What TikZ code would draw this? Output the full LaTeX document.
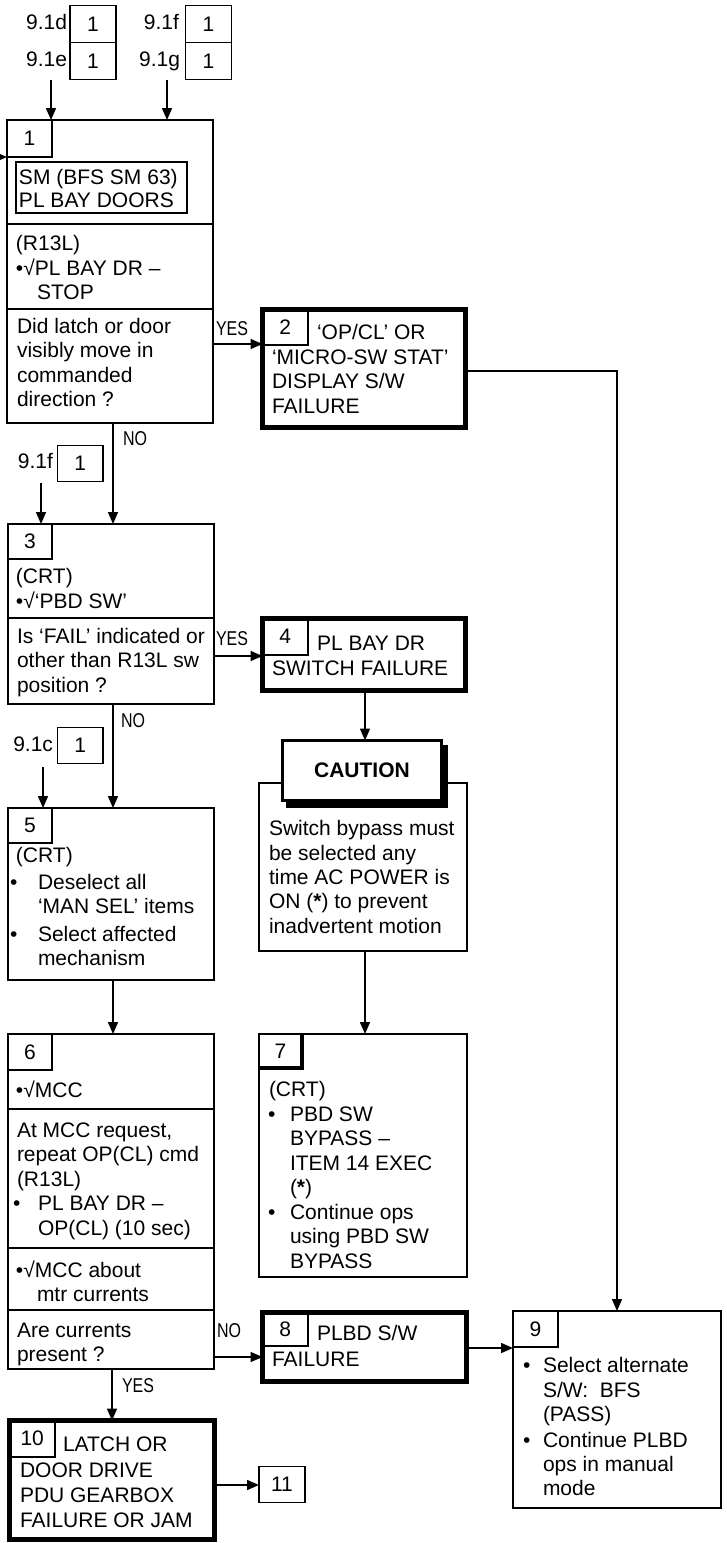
\documentclass[tikz,border=0pt]{standalone}
\usepackage{fontspec}
\setmainfont{Liberation Sans}
\newfontfamily\narrowfont[FakeStretch=0.8]{Liberation Sans}
\usetikzlibrary{arrows.meta}
\begin{document}
\begin{tikzpicture}[x=1pt,y=-1pt,
  box/.style={draw, line width=1.6pt, inner sep=0pt, outer sep=0pt, anchor=north west, font=\fontsize{21}{24}\selectfont},
  tabbox/.style={box, line width=1.5pt},
  heavybox/.style={box, line width=4.5pt},
  txt/.style={inner sep=0pt, outer sep=0pt, anchor=base west, font=\fontsize{21}{24}\selectfont},
  rlbl/.style={txt, anchor=base east},
  lbl/.style={inner sep=0pt, outer sep=0pt, anchor=base west, font=\narrowfont\fontsize{20}{24}\selectfont},
  arr/.style={line width=1.6pt, -{Triangle[length=12pt,width=10pt]}},
  divl/.style={line width=1.6pt},
]
\useasboundingbox (0,0) rectangle (727,1543);

% ---- top references
\node[tabbox, minimum width=46pt, minimum height=37pt] (r1) at (70,5.5) {1};
\node[tabbox, minimum width=46pt, minimum height=37pt] (r2) at (70,42.5) {1};
\node[tabbox, minimum width=46pt, minimum height=37pt] (r3) at (185.5,5.5) {1};
\node[tabbox, minimum width=46pt, minimum height=37pt] (r4) at (185.5,42.5) {1};
\node[rlbl] (r1l) at (67,29) {9.1d};
\node[rlbl] (r2l) at (67,66) {9.1e};
\node[rlbl] (r3l) at (179,29) {9.1f};
\node[rlbl] (r4l) at (180,66) {9.1g};

% ---- box 1
\node[box, minimum width=206pt, minimum height=303pt] (b1) at (7,120) {};
\node[tabbox, minimum width=45pt, minimum height=37pt] (t1) at (7,120) {1};
\node[tabbox, minimum width=171pt, minimum height=51pt] (h1) at (16,162) {};
\node[txt] (h1a) at (19,184) {SM (BFS SM 63)};
\node[txt] (h1b) at (19,207) {PL BAY DOORS};
\draw[divl] (7,224) -- (213,224);
\node[txt] (s1a) at (16,250) {(R13L)};
\node[txt] (s1b) at (16,275) {•√PL BAY DR –};
\node[txt] (s1c) at (37,299) {STOP};
\draw[divl] (7,309) -- (213,309);
\node[txt] (q1a) at (17,333) {Did latch or door};
\node[txt] (q1b) at (17,357.5) {visibly move in};
\node[txt] (q1c) at (17,382) {commanded};
\node[txt] (q1d) at (17,406.5) {direction ?};

\coordinate (s1) at (51,80);
\coordinate (s2) at (167,80);
\draw[arr] (s1) -- (s1 |- b1.north);
\draw[arr] (s2) -- (s2 |- b1.north);
\coordinate (lin) at (-14,157);
\draw[arr] (lin) -- (lin -| b1.west);

% ---- box 2
\node[heavybox, minimum width=203pt, minimum height=118pt] (b2) at (262.5,309.5) {};
\node[tabbox, minimum width=45.5pt, minimum height=35.5pt] (t2) at (262.5,309.5) {2};
\node[txt] (b2a) at (317,339) {‘OP/CL’ OR};
\node[txt] (b2b) at (272,364) {‘MICRO-SW STAT’};
\node[txt] (b2c) at (272,388.5) {DISPLAY S/W};
\node[txt] (b2d) at (272,413) {FAILURE};
\node[lbl] (y1) at (216,335) {YES};
\draw[arr] (b1.east |- 0,344) -- (b2.west |- 0,344);

% ---- box 3
\node[tabbox, minimum width=45.5pt, minimum height=36pt] (r5) at (57.5,445.5) {1};
\node[rlbl] (r5l) at (53,468) {9.1f};
\node[lbl] (n1) at (123,445) {NO};
\node[box, minimum width=206pt, minimum height=180pt] (b3) at (8,524) {};
\node[tabbox, minimum width=44pt, minimum height=35pt] (t3) at (8,524) {3};
\node[txt] (b3a) at (16,583) {(CRT)};
\node[txt] (b3b) at (16,608) {•√‘PBD SW’};
\draw[divl] (8,618) -- (214,618);
\node[txt] (b3c) at (17,643) {Is ‘FAIL’ indicated or};
\node[txt] (b3d) at (17,667.5) {other than R13L sw};
\node[txt] (b3e) at (17,692) {position ?};
\draw[arr] (b1.south -| 113,0) -- (b3.north -| 113,0);
\coordinate (s3) at (41,483);
\draw[arr] (s3) -- (s3 |- b3.north);

% ---- box 4
\node[heavybox, minimum width=203pt, minimum height=72pt] (b4) at (262.5,618.5) {};
\node[tabbox, minimum width=45.5pt, minimum height=36.5pt] (t4) at (262.5,618.5) {4};
\node[txt] (b4a) at (317,650) {PL BAY DR};
\node[txt] (b4b) at (272,675) {SWITCH FAILURE};
\node[lbl] (y2) at (216,645) {YES};
\draw[arr] (b3.east |- 0,656) -- (b4.west |- 0,656);

% ---- caution
\node[box, minimum width=208pt, minimum height=168pt] (caub) at (259,783) {};
\node[fill, inner sep=0pt, outer sep=0pt, anchor=north west, minimum width=162pt, minimum height=63pt] (cshadow) at (286,745) {};
\node[box, line width=3pt, fill=white, minimum width=159pt, minimum height=60pt, font=\fontsize{21}{24}\selectfont\bfseries] (cauh) at (282.5,740.5) {CAUTION};
\node[txt] (ca) at (269,835) {Switch bypass must};
\node[txt] (cb) at (269,860) {be selected any};
\node[txt] (cc) at (269,884) {time AC POWER is};
\node[txt] (cd) at (269,908) {ON (\textbf{*}) to prevent};
\node[txt] (ce) at (269,933) {inadvertent motion};
\draw[arr] (b4.south -| 365,0) -- (cauh.north -| 365,0);

% ---- box 5
\node[tabbox, minimum width=45.5pt, minimum height=36pt] (r6) at (57.5,727.5) {1};
\node[rlbl] (r6l) at (53,751) {9.1c};
\node[lbl] (n2) at (121,727) {NO};
\node[box, minimum width=206pt, minimum height=172pt] (b5) at (8,808) {};
\node[tabbox, minimum width=44pt, minimum height=35pt] (t5) at (8,808) {5};
\node[txt] (b5a) at (16,862) {(CRT)};
\node[txt] (b5b1) at (10,889) {•};
\node[txt] (b5b) at (38,889) {Deselect all};
\node[txt] (b5c) at (38,913) {‘MAN SEL’ items};
\node[txt] (b5d1) at (10,941) {•};
\node[txt] (b5d) at (38,941) {Select affected};
\node[txt] (b5e) at (38,965) {mechanism};
\draw[arr] (b3.south -| 113,0) -- (b5.north -| 113,0);
\coordinate (s4) at (43,767);
\draw[arr] (s4) -- (s4 |- b5.north);

% ---- box 7
\node[box, minimum width=208pt, minimum height=243pt] (b7) at (259,1034) {};
\node[inner sep=0pt, outer sep=0pt, anchor=north west, minimum width=43pt, minimum height=34pt, font=\fontsize{21}{24}\selectfont] (t7) at (259,1034) {7};
\draw[line width=4.5pt] (t7.south west) -- (t7.south east) -- ([yshift=-0.8pt]t7.north east);
\node[txt] (b7a) at (269,1096) {(CRT)};
\node[txt] (b7b1) at (268,1121) {•};
\node[txt] (b7b) at (290,1121) {PBD SW};
\node[txt] (b7c) at (290,1145) {BYPASS –};
\node[txt] (b7d) at (290,1170) {ITEM 14 EXEC};
\node[txt] (b7e) at (290,1194) {(\textbf{*})};
\node[txt] (b7f1) at (268,1219) {•};
\node[txt] (b7f) at (290,1219) {Continue ops};
\node[txt] (b7g) at (290,1243.5) {using PBD SW};
\node[txt] (b7h) at (290,1268) {BYPASS};
\draw[arr] (caub.south -| 365,0) -- (b7.north -| 365,0);

% ---- box 6
\node[box, minimum width=206pt, minimum height=335pt] (b6) at (8,1034) {};
\node[tabbox, minimum width=44pt, minimum height=36pt] (t6) at (8,1034) {6};
\node[txt] (b6a) at (16,1097) {•√MCC};
\draw[divl] (8,1109) -- (214,1109);
\node[txt] (b6b) at (17,1137) {At MCC request,};
\node[txt] (b6c) at (17,1161.5) {repeat OP(CL) cmd};
\node[txt] (b6d) at (17,1186) {(R13L)};
\node[txt] (b6e1) at (13,1210.5) {•};
\node[txt] (b6e) at (38,1210.5) {PL BAY DR –};
\node[txt] (b6f) at (38,1235) {OP(CL) (10 sec)};
\draw[divl] (8,1248) -- (214,1248);
\node[txt] (b6g) at (16,1277) {•√MCC about};
\node[txt] (b6h) at (37,1301.5) {mtr currents};
\draw[divl] (8,1310) -- (214,1310);
\node[txt] (b6i) at (17,1337) {Are currents};
\node[txt] (b6j) at (17,1361) {present ?};
\draw[arr] (b5.south -| 113,0) -- (b6.north -| 113,0);

% ---- box 8
\node[heavybox, minimum width=204pt, minimum height=69pt] (b8) at (262.5,1312.5) {};
\node[tabbox, minimum width=45.5pt, minimum height=33.5pt] (t8) at (262.5,1312.5) {8};
\node[txt] (b8a) at (317,1340) {PLBD S/W};
\node[txt] (b8b) at (272,1366) {FAILURE};
\node[lbl] (n3) at (217,1337) {NO};
\draw[arr] (b6.east |- 0,1357) -- (b8.west |- 0,1357);

% ---- box 9
\node[box, minimum width=208pt, minimum height=197pt] (b9) at (513,1311) {};
\node[tabbox, minimum width=45pt, minimum height=36pt] (t9) at (513,1311) {9};
\node[txt] (b9a1) at (523,1372) {•};
\node[txt] (b9a) at (543,1372) {Select alternate};
\node[txt] (b9b) at (543,1397) {S/W:\ \ BFS};
\node[txt] (b9c) at (543,1421) {(PASS)};
\node[txt] (b9d1) at (523,1447) {•};
\node[txt] (b9d) at (543,1447) {Continue PLBD};
\node[txt] (b9e) at (543,1471) {ops in manual};
\node[txt] (b9f) at (543,1495) {mode};
\draw[arr] (b8.east |- 0,1348) -- (b9.west |- 0,1348);
\draw[arr] (b2.east |- 0,371) -| (b9.north);

% ---- box 10, 11
\node[heavybox, minimum width=205pt, minimum height=119pt] (b10) at (9.5,1420.5) {};
\node[tabbox, minimum width=45.5pt, minimum height=36.5pt] (t10) at (9.5,1420.5) {10};
\node[txt] (b10a) at (63,1451) {LATCH OR};
\node[txt] (b10b) at (20,1477) {DOOR DRIVE};
\node[txt] (b10c) at (20,1502) {PDU GEARBOX};
\node[txt] (b10d) at (20,1527) {FAILURE OR JAM};
\node[lbl] (y3) at (122,1392) {YES};
\draw[arr] (b6.south -| 112,0) -- (b10.north -| 112,0);
\node[tabbox, minimum width=46pt, minimum height=36pt] (b11) at (259,1466.5) {11};
\draw[arr] (b10.east |- 0,1485) -- (b11.west |- 0,1485);
\end{tikzpicture}
\end{document}
